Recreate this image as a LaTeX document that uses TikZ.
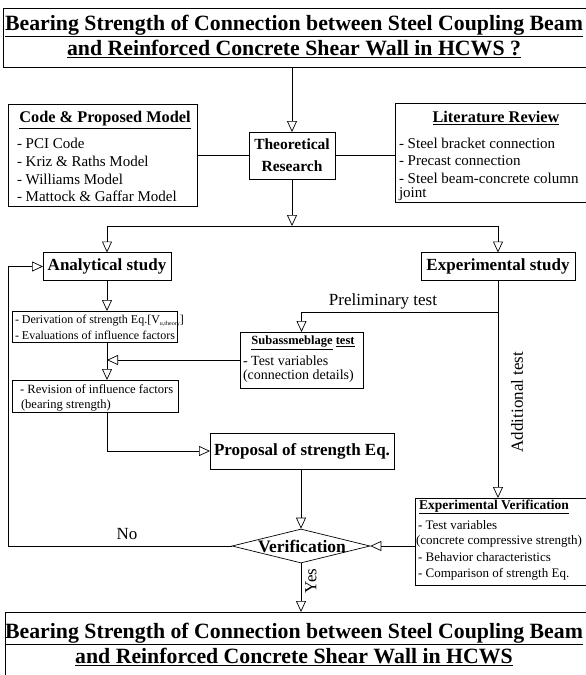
\documentclass[tikz,border=0pt]{standalone}
\usepackage{fontspec}
\setmainfont{Liberation Serif}
\usetikzlibrary{arrows.meta,shapes.geometric}
\tikzset{
  box/.style={draw, line width=0.7pt, inner sep=0pt, outer sep=0pt},
  arr/.style={-{Triangle[open,length=11pt,width=10pt]}, line width=0.7pt},
  ln/.style={line width=0.7pt},
  txt/.style={inner sep=0pt, outer sep=0pt},
  bigtitle/.style={txt, font=\fontsize{21.8}{25}\selectfont\bfseries, align=center},
  head/.style={txt, font=\fontsize{16.3}{19}\selectfont\bfseries},
  item/.style={txt, anchor=west, font=\fontsize{15}{17}\selectfont},
  sitem/.style={txt, anchor=west, font=\fontsize{12}{14}\selectfont},
  xsitem/.style={txt, anchor=west, font=\fontsize{13}{15}\selectfont},
  lbl/.style={txt, font=\fontsize{17}{19}\selectfont},
}
\begin{document}
\begin{tikzpicture}[x=1pt,y=-1pt]
\useasboundingbox (0,0) rectangle (586,675);
\fill[white] (0,0) rectangle (586,675);

% title
\node[box, anchor=north west, minimum width=590pt, minimum height=59pt] (title) at (3,8) {};
\node[bigtitle] (titletext) at (294,36) {\underline{Bearing Strength of Connection between Steel Coupling Beam}\\\underline{and Reinforced Concrete Shear Wall in HCWS ?}};

% code box
\node[box, minimum width=189pt, minimum height=102pt] (code) at (102.5,155) {};
\node[head] (codeh) at (105,120) {\underline{Code \& Proposed Model}};
\node[item] (c1) at (17,143) {- PCI Code};
\node[item] (c2) at (17,161) {- Kriz \& Raths Model};
\node[item] (c3) at (17,179) {- Williams Model};
\node[item] (c4) at (17,196) {- Mattock \& Gaffar Model};

% theoretical
\node[box, minimum width=86pt, minimum height=47pt, align=center, font=\fontsize{15.5}{22}\selectfont\bfseries] (theo) at (292,155.5) {Theoretical\\Research};

% literature
\node[box, minimum width=192pt, minimum height=99pt] (lit) at (491,152.5) {};
\node[head] (lith) at (496,118) {\underline{Literature Review}};
\node[item] (l1) at (399,143) {- Steel bracket connection};
\node[item] (l2) at (399,161) {- Precast connection};
\node[item] (l3) at (399,178) {- Steel beam-concrete column};
\node[item] (l4) at (399,194) {joint};

% analytical / experimental
\node[box, minimum width=128pt, minimum height=28pt, font=\fontsize{17}{20}\selectfont\bfseries] (ana) at (107,266.5) {Analytical study};
\node[box, minimum width=154pt, minimum height=28pt, font=\fontsize{17}{20}\selectfont\bfseries] (exp) at (498,266.5) {Experimental study};

% derivation
\node[box, minimum width=165pt, minimum height=31pt] (der) at (94.5,326.5) {};
\node[sitem] (d1) at (15,321) {- Derivation of strength Eq.[V{\fontsize{6}{7}\selectfont\raisebox{-2pt}{u,theory}}]};
\node[sitem] (d2) at (15,335.5) {- Evaluations of influence factors};

% revision
\node[box, minimum width=166pt, minimum height=32pt] (rev) at (95,396) {};
\node[txt, anchor=west, font=\fontsize{12.6}{15}\selectfont] (r1) at (20,389.5) {- Revision of influence factors};
\node[txt, anchor=west, font=\fontsize{12.6}{15}\selectfont] (r2) at (21,405) {(bearing strength)};

% subassemblage
\node[box, minimum width=123pt, minimum height=56pt] (sub) at (301.5,360) {};
\node[txt, font=\fontsize{12.5}{14}\selectfont\bfseries] (subh) at (303,343) {\underline{Subassmeblage} \underline{test}};
\node[txt, anchor=west, font=\fontsize{14}{16}\selectfont] (s1) at (243,361) {- Test variables};
\node[txt, anchor=west, font=\fontsize{14}{16}\selectfont] (s2) at (243,376.5) {(connection details)};

% proposal
\node[box, minimum width=184pt, minimum height=36pt, font=\fontsize{17}{20}\selectfont\bfseries] (prop) at (302,451) {Proposal of strength Eq.};

% verification diamond
\node[draw, line width=0.7pt, diamond, inner sep=0pt, minimum width=138pt, minimum height=34pt] (ver) at (301,546) {};
\node[txt, font=\fontsize{17.5}{20}\selectfont\bfseries] (vertext) at (302,546) {Verification};

% experimental verification
\node[box, minimum width=172pt, minimum height=87pt] (ev) at (501,541.5) {};
\node[txt, font=\fontsize{13.5}{15}\selectfont\bfseries] (evh) at (494,507) {\underline{Experimental Verification}};
\node[xsitem] (e1) at (418,525) {- Test variables};
\node[xsitem] (e2) at (416,541) {(concrete compressive strength)};
\node[xsitem] (e3) at (418,557) {- Behavior characteristics};
\node[xsitem] (e4) at (418,574) {- Comparison of strength Eq.};

% final
\node[box, anchor=north west, minimum width=590pt, minimum height=80pt] (fin) at (5,612) {};
\node[bigtitle] (fintext) at (294,644) {\underline{Bearing Strength of Connection between Steel Coupling Beam}\\\underline{and Reinforced Concrete Shear Wall in HCWS}};

% labels
\node[lbl] (pre) at (383,301) {Preliminary test};
\node[lbl, rotate=90] (add) at (517,402) {Additional test};
\node[lbl] (no) at (127,534) {No};
\node[lbl, rotate=90] (yes) at (311,581) {Yes};

% connectors
\coordinate (j) at (292,226);
\coordinate (br) at (498,312);
\coordinate (lp) at (8,0);
\draw[arr] (title.south -| theo.north) -- (theo.north);
\draw[ln] (code.east |- theo.west) -- (theo.west);
\draw[ln] (theo.east) -- (theo.east -| lit.west);
\draw[arr] (theo.south) -- (j);
\draw[arr] (j) -| (ana.north);
\draw[arr] (j) -| (exp.north);
\draw[arr] (ana.south) -- (ana.south |- der.north);
\draw[arr] (ana.south |- der.south) -- (ana.south |- rev.north);
\draw[arr] (sub.west) -- (sub.west -| ana.south);
\draw[arr] (ana.south |- rev.south) |- (prop.west);
\draw[arr] (exp.south) -- (exp.south |- ev.north);
\draw[arr] (br) -| (sub.north);
\draw[arr] (prop.south -| ver.north) -- (ver.north);
\draw[arr] (ver.east -| ev.west) -- (ver.east);
\draw[arr] (ver.west) -- (ver.west -| lp) |- (ana.west);
\draw[arr] (ver.south) -- (ver.south |- fin.north);
\end{tikzpicture}
\end{document}
